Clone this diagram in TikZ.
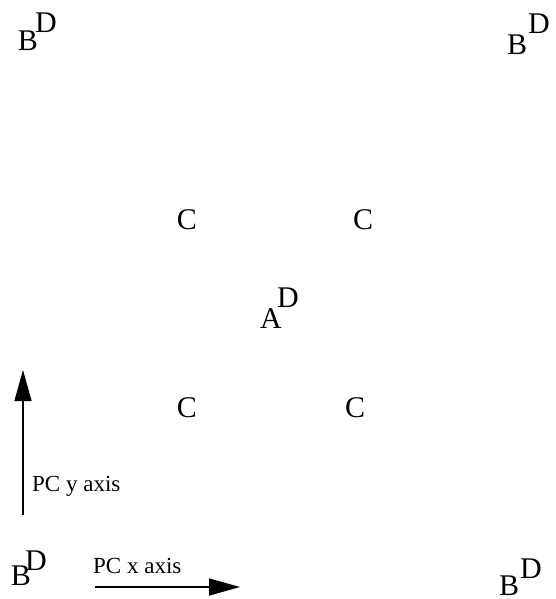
\documentclass[tikz,border=0pt]{standalone}
\usepackage{fontspec}
\setmainfont{Liberation Serif}
\usetikzlibrary{positioning, arrows.meta}

\begin{document}
\begin{tikzpicture}[
x=1pt, y=-1pt,
letter/.style={inner sep=0pt, anchor=base, font=\fontsize{30}{30}\selectfont},
axislabel/.style={inner sep=0pt, anchor=base west, font=\fontsize{23}{23}\selectfont},
axisarrow/.style={-{Triangle[length=31pt, width=17pt]}, line width=1.5pt}
]
\useasboundingbox (0,0) rectangle (556,599);

\node[letter] (b_tl) at (28,51) {B};
\node[letter] (d_tl) at (46,33) {D};
\node[letter] (b_tr) at (517,55) {B};
\node[letter] (d_tr) at (539,34) {D};

\node[letter] (c_tl) at (187,229) {C};
\node[letter] (c_tr) at (363,229) {C};
\node[letter] (a_mid) at (271,328) {A};
\node[letter] (d_mid) at (288,307) {D};
\node[letter] (c_bl) at (187,417) {C};
\node[letter] (c_br) at (355,417) {C};

\node[letter] (b_bl) at (21,585) {B};
\node[letter] (d_bl) at (36,570) {D};
\node[letter] (b_br) at (509,595) {B};
\node[letter] (d_br) at (531,578) {D};

\coordinate (y_from) at (23,515);
\coordinate (y_to) at (23,370);
\coordinate (x_from) at (95,587);
\coordinate (x_to) at (240,587);

\node[axislabel] (y_label) at (32,491) {PC y axis};
\node[axislabel] (x_label) at (93,573) {PC x axis};

\draw[axisarrow] (y_from) -- (y_to);
\draw[axisarrow] (x_from) -- (x_to);

\end{tikzpicture}
\end{document}
